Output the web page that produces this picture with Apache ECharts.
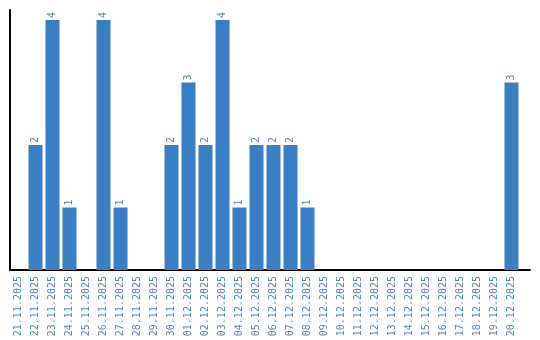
<!DOCTYPE html>
<html>
<head>
<meta charset="utf-8">
<script src="https://cdn.jsdelivr.net/npm/echarts@6/dist/echarts.min.js"></script>
<style>html,body{margin:0;padding:0;background:#fff}#c{width:540px;height:340px}</style>
</head>
<body>
<div id="c"></div>
<script>
const categories = ['21.11.2025','22.11.2025','23.11.2025','24.11.2025','25.11.2025','26.11.2025','27.11.2025','28.11.2025','29.11.2025','30.11.2025','01.12.2025','02.12.2025','03.12.2025','04.12.2025','05.12.2025','06.12.2025','07.12.2025','08.12.2025','09.12.2025','10.12.2025','11.12.2025','12.12.2025','13.12.2025','14.12.2025','15.12.2025','16.12.2025','17.12.2025','18.12.2025','19.12.2025','20.12.2025'];
const values = [0,2,4,1,0,4,1,0,0,2,3,2,4,1,2,2,2,1,0,0,0,0,0,0,0,0,0,0,0,3];

const blue = '#3a7fc3';
const font = 'DejaVu Sans Mono';
const chart = echarts.init(document.getElementById('c'), null, {renderer:'canvas'});
chart.setOption({
  animation: false,
  grid: [
    {left: 10, right: 20, top: 10, bottom: 70},
    {left: 10, right: 10, top: 10, bottom: 70}
  ],
  xAxis: [
    {
      type: 'category', data: categories, gridIndex: 0,
      axisLine: {show: false},
      axisTick: {show: false},
      axisLabel: {rotate: 90, interval: 0, color: '#4a8acb', fontFamily: font, fontSize: 10, margin: 6}
    },
    {
      type: 'value', gridIndex: 1, min: 0, max: 1,
      axisLine: {show: true, lineStyle: {color: '#000', width: 2}},
      axisTick: {show: false}, axisLabel: {show: false}, splitLine: {show: false}
    }
  ],
  yAxis: [
    {
      type: 'value', gridIndex: 0, min: 0, max: 4.16,
      axisLine: {show: true, lineStyle: {color: '#000', width: 2}},
      axisTick: {show: false}, axisLabel: {show: false}, splitLine: {show: false}
    },
    {
      type: 'value', gridIndex: 1, min: 0, max: 1, show: false
    }
  ],
  series: [{
    type: 'bar', xAxisIndex: 0, yAxisIndex: 0,
    data: values.map(v => v === 0 ? null : v),
    barWidth: 14,
    itemStyle: {color: blue},
    label: {
      show: true, position: 'top', rotate: 90, distance: 2,
      align: 'left', verticalAlign: 'middle',
      color: '#4a8acb', fontFamily: font, fontSize: 10
    }
  }]
});
</script>
</body>
</html>
